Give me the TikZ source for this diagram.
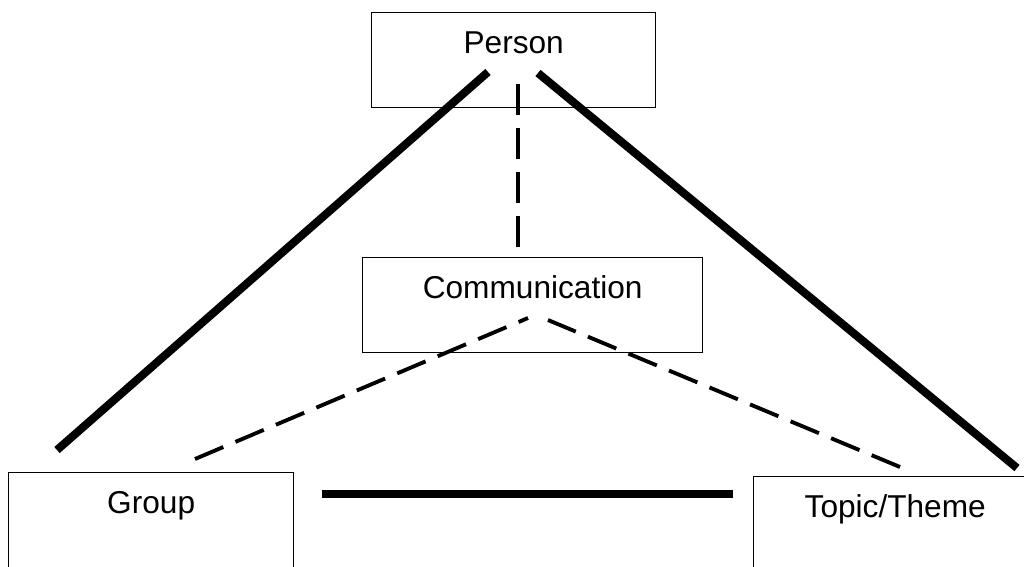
\documentclass[tikz,border=0pt]{standalone}
\usepackage{fontspec}
\setmainfont{Liberation Sans}
\usepackage{tikz}

\tikzset{
  box/.style={draw, line width=0.8pt, inner sep=0pt, anchor=north west,
              text height=0.82cm, text depth=1.08cm,
              font=\fontsize{18}{20}\selectfont},
  strong/.style={line width=4.6pt},
  weak/.style={line width=2.2pt, dash pattern=on 17.5pt off 7.5pt}
}

\begin{document}
\begin{tikzpicture}[x=0.02cm, y=-0.02cm]
\useasboundingbox (0,0) rectangle (1024,566);
\clip (0,0) rectangle (1024,566);

\node[box, minimum width=5.68cm] (person) at (371,12) {Person};
\node[box, minimum width=6.8cm] (comm) at (362,257) {Communication};
\node[box, minimum width=5.7cm, text depth=1.3cm] (group) at (8,472) {Group};%<-- runs off the bottom
\node[box, minimum width=5.66cm, text depth=1.3cm] (topic) at (753,476) {Topic/Theme};

% ends of the links
\coordinate (pL) at (488,72);
\coordinate (pR) at (538,73);
\coordinate (pM) at (518,84);
\coordinate (gT) at (57,450);
\coordinate (tT) at (1017,468);
\coordinate (cT) at (518,248);
\coordinate (cL) at (528,318);
\coordinate (cR) at (548,320);
\coordinate (gD) at (195,459);
\coordinate (tD) at (900,467);
\coordinate (gR) at (322,494);
\coordinate (tL) at (733,494);

\draw[strong] (pL) -- (gT);
\draw[strong] (pR) -- (tT);
\draw[strong] (gR) -- (tL);
\draw[weak] (pM) -- (cT);
\draw[weak] (gD) -- (cL);
\draw[weak] (tD) -- (cR);
\end{tikzpicture}
\end{document}
